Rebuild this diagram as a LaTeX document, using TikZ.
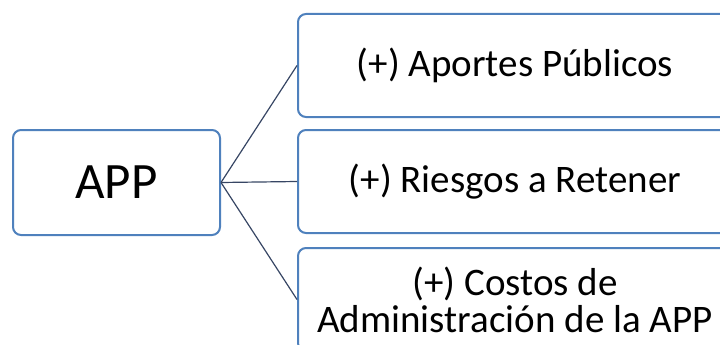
\documentclass[tikz,border=0pt]{standalone}
\usepackage{fontspec}
\setmainfont{Carlito}
\definecolor{boxline}{RGB}{79,129,189}
\definecolor{conn}{RGB}{55,70,100}
\begin{document}
\begin{tikzpicture}[x=1pt,y=-1pt,
  box/.style={draw=boxline, line width=2pt, rounded corners=8pt, fill=white, inner sep=0pt, align=center},
  conline/.style={draw=conn, line width=1.2pt}]
\useasboundingbox (0,0) rectangle (720,345);
\clip (0,0) rectangle (720,345);
\node[box, minimum width=207pt, minimum height=105pt, font=\fontsize{51}{56}\selectfont] (app) at (116.5,182.5) {APP};
\node[box, minimum width=434pt, minimum height=103pt, font=\fontsize{39}{38}\selectfont] (b1) at (515,65.5) {(+) Aportes Públicos};
\node[box, minimum width=434pt, minimum height=103pt, font=\fontsize{39}{38}\selectfont] (b2) at (515,181.5) {(+) Riesgos a Retener};
\node[box, minimum width=434pt, minimum height=103pt, font=\fontsize{39}{37}\selectfont] (b3) at (515,299.5) {(+) Costos de\\Administración de la APP};
\draw[conline] (app.east) -- (b1.west);
\draw[conline] (app.east) -- (b2.west);
\draw[conline] (app.east) -- (b3.west);
\end{tikzpicture}
\end{document}
